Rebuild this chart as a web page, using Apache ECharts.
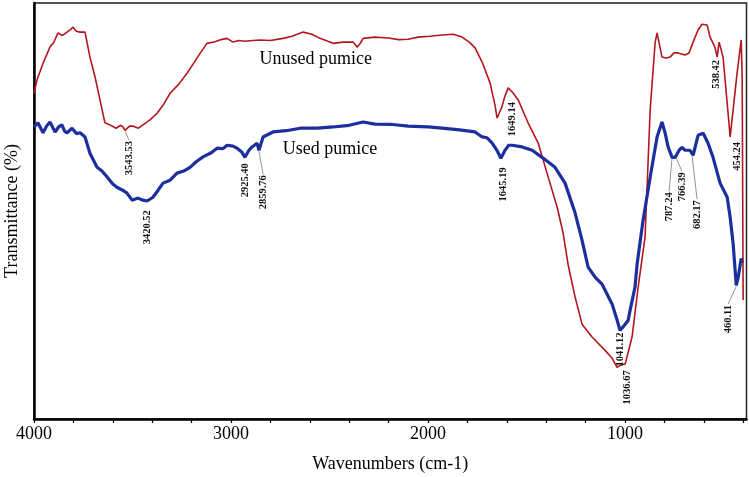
<!DOCTYPE html>
<html>
<head>
<meta charset="utf-8">
<script src="https://cdn.jsdelivr.net/npm/echarts@6/dist/echarts.min.js"></script>
<style>html,body{margin:0;padding:0;background:#fff}#c{width:749px;height:477px}</style>
</head>
<body>
<div id="c"></div>
<script>
const xTickValues = [4000,3800,3600,3400,3200,3000,2800,2600,2400,2200,2000,1800,1600,1400,1200,1000,800,600,400];
const xLabelValues = [4000,3000,2000,1000];

const unusedWn = [4000,3985,3950,3919,3900,3878,3855,3832,3815,3802,3785,3766,3741,3716,3690,3665,3640,3614,3584,3560,3548,3538,3515,3497,3470,3447,3411,3375,3340,3309,3265,3223,3190,3157,3122,3081,3050,3020,2990,2960,2929,2890,2852,2800,2736,2690,2634,2590,2548,2482,2430,2380,2360,2345,2329,2269,2200,2150,2101,2050,1989,1930,1872,1827,1790,1761,1725,1685,1660,1649,1625,1610,1593,1570,1542,1492,1441,1390,1344,1314,1289,1253,1218,1167,1101,1065,1040,1020,999,964,933,898,872,847,837,812,791,771,751,730,695,675,654,629,609,583,568,543,532,522,502,481,466,451,431,410,405,402,400];
const unusedT = [78.3,81.5,86,89.4,90.5,92.8,92.2,93.0,93.6,94.2,93.2,93.0,93.0,87.0,82.2,76.7,71.2,70.7,69.9,70.6,70.2,69.4,70.4,70.4,69.9,70.7,71.9,73.5,75.8,78.3,80.5,83.1,85.5,87.9,90.3,90.7,91.2,91.5,90.6,91.0,90.8,91.0,91.1,91.0,91.5,92.0,93.0,92.5,91.5,90.3,90.6,90.6,89.4,90.2,91.5,91.8,91.6,91.2,91.3,91.8,92.0,92.3,92.5,91.8,90.6,89.2,85.8,80.8,75.5,72.3,75.0,77.5,79.6,78.5,76.7,71.2,66.4,58.2,50.9,44.7,37.2,29.3,22.8,19.7,16.5,14.6,12.4,13.0,13.2,19.7,31.7,43.7,74.3,90.4,92.8,87.0,86.8,87.0,88.0,88.0,87.5,88.0,90.6,93.5,94.9,94.7,91.8,89.4,87.0,90.6,87.0,75.9,67.8,74.3,83.1,91.1,82.2,50.2,28.6];

const usedWn = [4000,3980,3954,3935,3919,3893,3875,3858,3845,3832,3807,3785,3766,3741,3716,3680,3655,3629,3600,3579,3550,3528,3502,3472,3447,3426,3396,3370,3345,3309,3274,3240,3208,3175,3142,3100,3071,3040,3020,2990,2969,2944,2929,2909,2893,2868,2858,2837,2787,2720,2649,2560,2482,2400,2329,2269,2180,2101,2000,1928,1840,1761,1725,1700,1675,1650,1630,1610,1590,1573,1522,1471,1421,1355,1304,1253,1218,1187,1150,1116,1065,1040,1025,1005,984,974,949,938,908,872,837,812,796,781,761,745,725,710,695,670,654,629,603,578,553,517,481,466,451,435,425,410,405];
const usedT = [70.2,71.2,68.8,70.5,71.4,69.0,70.2,70.7,69.2,68.8,69.9,68.6,68.8,67.8,63.9,60.5,59.6,58.2,56.5,55.7,55.0,54.3,52.6,53.1,52.6,52.4,53.3,55.0,56.7,57.4,59.1,59.6,60.5,61.9,63.0,64.0,65.1,65.0,65.8,65.6,65.1,64.1,62.9,64.6,65.4,66.3,64.6,67.8,69.0,69.3,69.9,69.9,70.2,70.6,71.4,70.9,70.8,70.4,70.2,69.9,69.5,69.0,67.8,67.6,66.4,64.6,62.7,64.5,65.8,65.8,65.4,64.6,62.9,60.5,56.7,49.5,43.0,36.5,34.0,32.4,27.6,23.8,21.3,22.4,23.7,26.1,31.7,37.4,47.8,58.1,67.8,71.4,68.7,65.4,62.9,62.9,64.6,65.3,64.6,64.6,63.4,68.2,68.7,66.3,62.9,56.7,53.3,48.5,42.2,32.1,34.1,38.6,37.5];

const peakLabels = ['3543.53','3420.52','2925.40','2859.76','1649.14','1645.19','1041.12','1036.67','787.24','766.39','682.17','538.42','454.24','460.11'];
const peakWn =     [3538,3426,2929,2858,1644,1624,1025,1040,761,740,659,532,466,435];
const peakT =      [69.4,52.4,62.9,64.6,72.3,62.7,21.3,12.4,62.9,62.9,63.4,87.0,67.8,32.1];
const labelWn =    [3518,3426,2929,2837,1573,1619,1025,989,776,710,634,537,430,476];
const labelTopT =  [66.8,50.2,61.5,58.6,76.2,60.5,20.8,11.7,54.5,59.3,52.6,86.3,66.6,27.4];
const hasLeader =  [1,0,0,1,0,0,0,0,1,1,1,0,0,1];

const seriesNames = ['Unused pumice','Used pumice'];
const nameWn = [2855,2737];
const nameT = [86.4,64.8];

const FONT = '"Liberation Serif", "Times New Roman", serif';

const chart = echarts.init(document.getElementById('c'));
chart.setOption({
  animation: false,
  grid: {left: 34, right: 2.5, top: 3, bottom: 58, show: true, borderColor: '#222', borderWidth: 1.5, containLabel: false, outerBoundsMode: 'none'},
  xAxis: {
    type: 'value', inverse: true, min: 383, max: 4000,
    axisLine: {show: true, lineStyle: {color: '#000', width: 2.5}},
    axisTick: {show: true, customValues: xTickValues, length: 4, inside: false, lineStyle: {color: '#000', width: 1.2}},
    axisLabel: {customValues: xLabelValues, formatter: function (v) { return String(v); }, fontFamily: FONT, fontSize: 18, color: '#000', margin: 6},
    splitLine: {show: false},
    name: 'Wavenumbers (cm-1)', nameLocation: 'middle', nameGap: 36,
    nameTextStyle: {fontFamily: FONT, fontSize: 18, color: '#000'}
  },
  yAxis: {
    type: 'value', min: 0, max: 100,
    axisLine: {show: true, lineStyle: {color: '#000', width: 2.5}},
    axisTick: {show: false}, axisLabel: {show: false}, splitLine: {show: false},
    name: 'Transmittance (%)', nameLocation: 'middle', nameGap: 13, nameRotate: 90,
    nameTextStyle: {fontFamily: FONT, fontSize: 18, color: '#000'}
  },
  series: [
    {
      name: 'Unused pumice', type: 'line', showSymbol: false, symbol: 'none',
      data: unusedWn.map((w, i) => [w, unusedT[i]]),
      lineStyle: {color: '#b3161c', width: 1.6}, z: 3
    },
    {
      name: 'Used pumice', type: 'line', showSymbol: false, symbol: 'none',
      data: usedWn.map((w, i) => [w, usedT[i]]),
      lineStyle: {color: '#1c2f9e', width: 3.2}, z: 4
    },
    {
      type: 'custom', z: 5, clip: false, silent: true,
      data: peakWn.map((w, i) => [w, peakT[i], labelWn[i], labelTopT[i]]),
      renderItem: function (params, api) {
        const i = params.dataIndex;
        const p = api.coord([api.value(0), api.value(1)]);
        const l = api.coord([api.value(2), api.value(3)]);
        const children = [];
        if (hasLeader[i]) {
          children.push({type: 'line', shape: {x1: p[0], y1: p[1] + 1, x2: l[0], y2: l[1] - 1}, style: {stroke: '#777', lineWidth: 0.8}});
        }
        children.push({
          type: 'text', x: l[0], y: l[1], rotation: Math.PI / 2,
          style: {text: peakLabels[i], x: 0, y: 0, align: 'right', verticalAlign: 'middle',
            fontFamily: FONT, fontSize: 10.5, fontWeight: 'bold', fill: '#111'}
        });
        return {type: 'group', children: children};
      }
    },
    {
      type: 'custom', z: 5, clip: false, silent: true,
      data: nameWn.map((w, i) => [w, nameT[i]]),
      renderItem: function (params, api) {
        const i = params.dataIndex;
        const p = api.coord([api.value(0), api.value(1)]);
        return {type: 'text', x: p[0], y: p[1],
          style: {text: seriesNames[i], x: 0, y: 0, align: 'left', verticalAlign: 'middle',
            fontFamily: FONT, fontSize: 18, fill: '#000'}};
      }
    }
  ]
});
</script>
</body>
</html>
